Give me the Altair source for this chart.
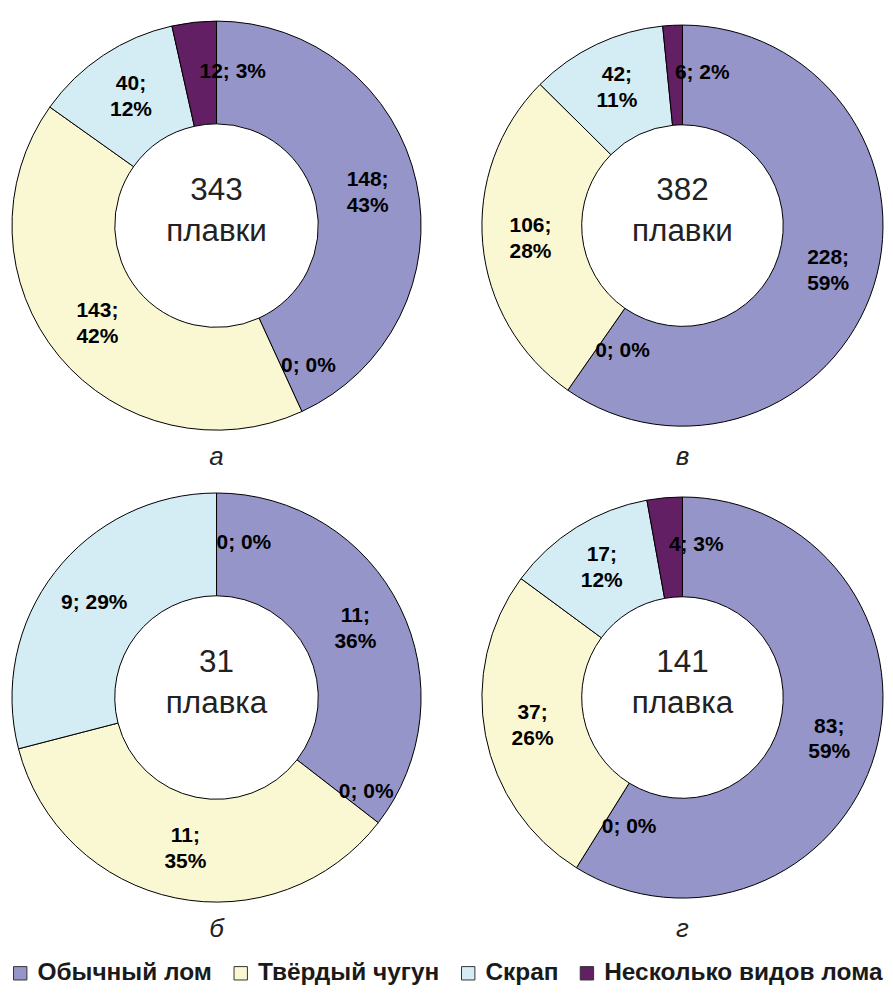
import altair as alt
import pandas as pd

FONT = "Liberation Sans"

categories = ["Обычный лом", "Другое", "Твёрдый чугун", "Скрап", "Несколько видов лома"]
legend_categories = ["Обычный лом", "Твёрдый чугун", "Скрап", "Несколько видов лома"]
colors = ["#9595C9", "#FAF8D2", "#D4ECF3", "#631F63"]

panels = ["а", "в", "б", "г"]
values = {
    "а": [148, 0, 143, 40, 12],
    "в": [228, 0, 106, 42, 6],
    "б": [11, 0, 11, 9, 0],
    "г": [83, 0, 37, 17, 4],
}
labels = {
    "а": ["148;\n43%", "0; 0%", "143;\n42%", "40;\n12%", "12; 3%"],
    "в": ["228;\n59%", "0; 0%", "106;\n28%", "42;\n11%", "6; 2%"],
    "б": ["11;\n36%", "0; 0%", "11;\n35%", "9; 29%", "0; 0%"],
    "г": ["83;\n59%", "0; 0%", "37;\n26%", "17;\n12%", "4; 3%"],
}
center_texts = {
    "а": "343\nплавки",
    "в": "382\nплавки",
    "б": "31\nплавка",
    "г": "141\nплавка",
}

rows = []
for p in panels:
    for i, (c, v, l) in enumerate(zip(categories, values[p], labels[p])):
        rows.append({"panel": p, "idx": i, "category": c, "value": v, "label": l})
df = pd.DataFrame(rows)
centers = pd.DataFrame({"panel": panels, "center": [center_texts[p] for p in panels]})

HEIGHT = 418
theta_scale = alt.Scale(domain=[0, 1])
LINE_H = 26


def donut(p, width, outer, inner, label_r):
    base = (
        alt.Chart(df)
        .transform_filter(alt.datum.panel == p)
        .transform_joinaggregate(total="sum(value)")
        .transform_stack(stack="value", groupby=["panel"], as_=["s0", "s1"],
                         sort=[alt.SortField("idx", order="ascending")])
        .transform_calculate(
            f0="datum.s0 / datum.total",
            f1="datum.s1 / datum.total",
            fm="(datum.s0 + datum.s1) / 2 / datum.total",
            share="datum.value / datum.total",
            multi="indexof(datum.label, '\\n') >= 0 ? 1 : 0",
        )
    )
    arcs = base.transform_filter(alt.datum.value > 0).mark_arc(
        innerRadius=inner, outerRadius=outer, stroke="#000000", strokeWidth=1
    ).encode(
        theta=alt.Theta("f0:Q", scale=theta_scale),
        theta2="f1:Q",
        color=alt.Color(
            "category:N",
            scale=alt.Scale(domain=legend_categories, range=colors),
            legend=alt.Legend(title=None, orient="bottom", direction="horizontal"),
        ),
    )
    text_kw = dict(radius=label_r, fontSize=21, fontWeight="bold", font=FONT,
                   lineBreak="\n", lineHeight=LINE_H, color="#000000", baseline="middle")
    enc = dict(theta=alt.Theta("fm:Q", scale=theta_scale), text="label:N")
    two_line = base.transform_filter(
        (alt.datum.share >= 0.05) & (alt.datum.multi == 1)
    ).mark_text(align="center", dy=-LINE_H / 2, **text_kw).encode(**enc)
    one_line = base.transform_filter(
        (alt.datum.share >= 0.05) & (alt.datum.multi == 0)
    ).mark_text(align="center", **text_kw).encode(**enc)
    small = base.transform_filter(alt.datum.share < 0.05).mark_text(
        align="left", **text_kw
    ).encode(**enc)
    center = alt.Chart(centers).transform_filter(alt.datum.panel == p).mark_text(
        fontSize=31.5, font=FONT, lineBreak="\n", lineHeight=41, color="#222222",
        baseline="middle", align="center", dy=-35
    ).encode(text="center:N")
    return alt.layer(arcs, two_line, one_line, small, center).properties(
        width=width, height=HEIGHT,
        title=alt.TitleParams(p, orient="bottom", fontSize=26, font=FONT,
                              fontStyle="italic", fontWeight="normal",
                              color="#222222", offset=10),
    )


left_kw = dict(width=418, outer=205, inner=102, label_r=155)
right_kw = dict(width=402, outer=201, inner=101, label_r=153)

chart = (
    alt.concat(donut("а", **left_kw), donut("в", **right_kw),
               donut("б", **left_kw), donut("г", **right_kw),
               columns=2, spacing={"row": 55, "column": 57}, bounds="flush")
    .resolve_scale(color="shared")
    .properties(padding={"left": 0, "right": 0, "top": 8, "bottom": 0})
    .configure_view(stroke=None)
    .configure_legend(
        labelFont=FONT, labelFontSize=24.5, labelFontWeight="bold", labelColor="#1a1a1a",
        symbolType="square", symbolSize=180, symbolStrokeColor="#333333",
        symbolStrokeWidth=1, symbolOpacity=1, columnPadding=16, labelOffset=5,
        offset=19, labelLimit=400,
    )
)

chart.save("out.html", embed_options={"renderer": "svg", "actions": False})
